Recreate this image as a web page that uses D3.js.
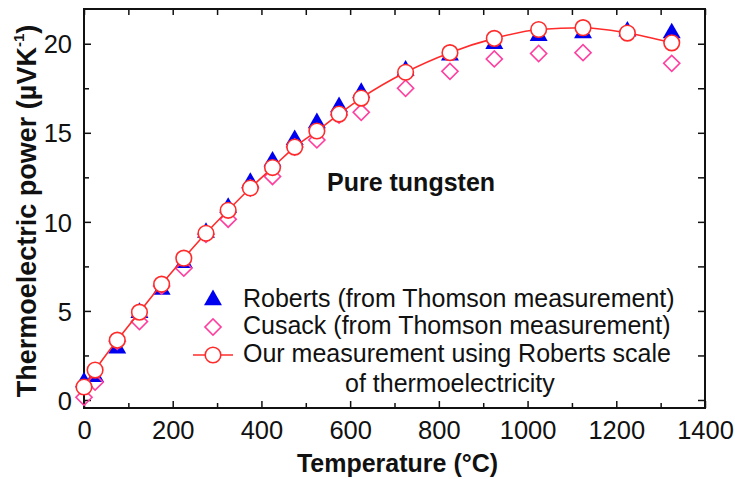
<!DOCTYPE html>
<html>
<head>
<meta charset="utf-8">
<script src="https://cdn.jsdelivr.net/npm/d3@7"></script>
<style>
  html, body { margin: 0; padding: 0; background: #fff; }
  text { font-family: "Liberation Sans", Arial, sans-serif; }
</style>
</head>
<body>
<div id="chart"></div>
<script>
// Thermoelectric power of pure tungsten vs temperature

// Temperatures (°C) of the measured points
const temps = [0, 25, 75, 125, 175, 225, 275, 325, 375, 425, 475, 525, 575, 625,
               725, 825, 925, 1025, 1125, 1225, 1325];

// Our measurement using Roberts scale (µV/K)
const ours = [0.73, 1.68, 3.36, 4.93, 6.5, 7.96, 9.36, 10.65, 11.9, 13.05, 14.2, 15.1, 16.05, 16.95,
              18.4, 19.5, 20.3, 20.8, 20.9, 20.6, 20.05];

// Roberts (from Thomson measurement)
const roberts = [1.0, 1.3, 2.9, 4.9, 6.2, 7.7, 9.4, 10.8, 12.2, 13.4, 14.6, 15.55, 16.45, 17.25,
                 18.5, 19.35, 20.0, 20.45, 20.6, 20.7, 20.6];

// Cusack (from Thomson measurement) - no point at 1225 °C
const cusackTemps = [0, 25, 75, 125, 175, 225, 275, 325, 375, 425, 475, 525, 575, 625,
                     725, 825, 925, 1025, 1125, 1325];
const cusack = [0.15, 1.0, 3.3, 4.4, 6.4, 7.4, 9.3, 10.15, 11.9, 12.55, 14.2, 14.6, 16.0, 16.15,
                17.5, 18.45, 19.15, 19.45, 19.5, 18.9];

// Axis ticks
const xMajor = [0, 200, 400, 600, 800, 1000, 1200, 1400];
const xMinor = [100, 300, 500, 700, 900, 1100, 1300];
const yMajor = [0, 5, 10, 15, 20];
const yMinor = [2.5, 7.5, 12.5, 17.5];

const legendLabels = [
    'Roberts (from Thomson measurement)',
    'Cusack (from Thomson measurement)',
    'Our measurement using Roberts scale',
    'of thermoelectricity'
];

const width = 735;
const height = 479;
const plot = { left: 84, right: 705, top: 9, bottom: 408 };

const blue = '#0000f0';
const pink = '#ff3fa0';
const red = '#ff2b2b';

const svg = d3.select('#chart')
    .append('svg')
    .attr('width', width)
    .attr('height', height)
    .style('background', '#fff');

const x = d3.scaleLinear().domain([0, 1400]).range([plot.left, plot.right]);
const y = d3.scaleLinear().domain([-0.45, 21.95]).range([plot.bottom, plot.top]);

// Axes: ticks point inward on all four sides
function drawAxis(axis, transform, showLabels) {
    const g = svg.append('g').attr('transform', transform).call(axis);
    g.select('.domain').remove();
    g.selectAll('.tick line').attr('stroke', '#111').attr('stroke-width', 1.5);
    if (!showLabels) g.selectAll('.tick text').remove();
    return g;
}

const bottomAxis = drawAxis(d3.axisBottom(x).tickValues(xMajor).tickSize(-7).tickPadding(10).tickFormat(d3.format('d')),
    `translate(0,${plot.bottom})`, true);
bottomAxis.selectAll('.tick text')
    .attr('y', 31).attr('dy', 0)
    .attr('font-size', '25.5px').attr('fill', '#111');
drawAxis(d3.axisBottom(x).tickValues(xMinor).tickSize(-5), `translate(0,${plot.bottom})`, false);
drawAxis(d3.axisTop(x).tickValues(xMajor.concat(xMinor)).tickSize(-6), `translate(0,${plot.top})`, false);

const leftAxis = drawAxis(d3.axisLeft(y).tickValues(yMajor).tickSize(-7).tickFormat(d3.format('d')),
    `translate(${plot.left},0)`, true);
leftAxis.selectAll('.tick text')
    .attr('x', -12).attr('dy', '0.36em')
    .attr('font-size', '25.5px').attr('fill', '#111');
drawAxis(d3.axisLeft(y).tickValues(yMinor).tickSize(-5), `translate(${plot.left},0)`, false);
drawAxis(d3.axisRight(y).tickValues(yMajor.concat(yMinor)).tickSize(-7), `translate(${plot.right},0)`, false);

// Frame
svg.append('rect')
    .attr('x', plot.left).attr('y', plot.top)
    .attr('width', plot.right - plot.left).attr('height', plot.bottom - plot.top)
    .attr('fill', 'none').attr('stroke', '#111').attr('stroke-width', 2);

// Axis titles
svg.append('text')
    .attr('x', (plot.left + plot.right) / 2 + 3).attr('y', 472)
    .attr('text-anchor', 'middle')
    .attr('font-size', '25px').attr('font-weight', 'bold').attr('fill', '#111')
    .text('Temperature (°C)');

const yTitle = svg.append('text')
    .attr('transform', 'translate(36,211) rotate(-90)')
    .attr('text-anchor', 'middle')
    .attr('font-size', '27px').attr('font-weight', 'bold').attr('fill', '#111');
yTitle.append('tspan').text('Thermoelectric power (µVK');
yTitle.append('tspan').attr('font-size', '15px').attr('dy', -12).text('-1');
yTitle.append('tspan').attr('dy', 12).text(')');

svg.append('text')
    .attr('x', 327).attr('y', 191)
    .attr('font-size', '25px').attr('font-weight', 'bold').attr('fill', '#111')
    .text('Pure tungsten');

// Symbols
const triangle = d3.symbol().type(d3.symbolTriangle).size(140);
const diamond = d3.symbol().type(d3.symbolSquare).size(130);

function drawTriangles(g, data) {
    g.selectAll(null).data(data).enter().append('path')
        .attr('d', triangle)
        .attr('transform', d => `translate(${d[0]},${d[1]})`)
        .attr('fill', blue);
}
function drawDiamonds(g, data) {
    g.selectAll(null).data(data).enter().append('path')
        .attr('d', diamond)
        .attr('transform', d => `translate(${d[0]},${d[1]}) rotate(45)`)
        .attr('fill', 'none').attr('stroke', pink).attr('stroke-width', 1.6);
}
function drawCircles(g, data) {
    g.selectAll(null).data(data).enter().append('circle')
        .attr('cx', d => d[0]).attr('cy', d => d[1]).attr('r', 7.8)
        .attr('fill', '#fff').attr('stroke', red).attr('stroke-width', 1.6);
}

const marks = svg.append('g');
drawTriangles(marks, temps.map((t, i) => [x(t), y(roberts[i])]));
drawDiamonds(marks, cusackTemps.map((t, i) => [x(t), y(cusack[i])]));

const line = d3.line()
    .x(d => x(d[0]))
    .y(d => y(d[1]))
    .curve(d3.curveMonotoneX);
marks.append('path')
    .datum(temps.map((t, i) => [t, ours[i]]))
    .attr('d', line)
    .attr('fill', 'none').attr('stroke', red).attr('stroke-width', 1.6);
drawCircles(marks, temps.map((t, i) => [x(t), y(ours[i])]));

// Legend
const legend = svg.append('g');
const lx = 213;
const rows = [300, 327, 355];
drawTriangles(legend, [[lx, rows[0]]]);
drawDiamonds(legend, [[lx, rows[1]]]);
legend.append('line')
    .attr('x1', lx - 20).attr('x2', lx + 20)
    .attr('y1', rows[2]).attr('y2', rows[2])
    .attr('stroke', red).attr('stroke-width', 1.6);
drawCircles(legend, [[lx, rows[2]]]);

const textX = [243, 243, 243, 345];
const textY = [307, 334, 362, 392];
legend.selectAll('text').data(legendLabels).enter().append('text')
    .attr('x', (d, i) => textX[i]).attr('y', (d, i) => textY[i])
    .attr('font-size', '25px').attr('fill', '#111')
    .text(d => d);
</script>
</body>
</html>
